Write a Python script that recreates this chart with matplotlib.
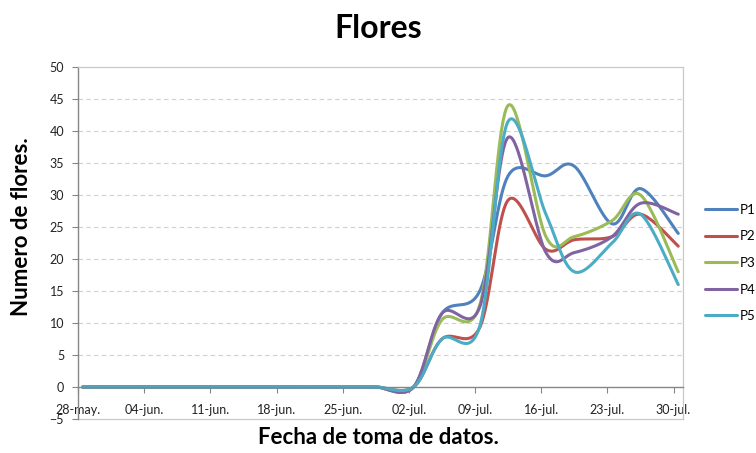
import numpy as np
import pandas as pd
import matplotlib
matplotlib.use('Agg')
import matplotlib.pyplot as plt

plt.rcParams['font.family'] = ['Lato', 'DejaVu Sans']

# Fechas de muestreo (martes y viernes desde finales de junio)
fechas = ['2013-05-28', '2013-06-04', '2013-06-11', '2013-06-18', '2013-06-25',
          '2013-06-28', '2013-07-02', '2013-07-05', '2013-07-09', '2013-07-12',
          '2013-07-16', '2013-07-19', '2013-07-23', '2013-07-26', '2013-07-30']

p1 = [0, 0, 0, 0, 0, 0, 0, 11.5, 15.0, 33.0, 33.0, 34.5, 25.5, 31.0, 24.0]
p2 = [0, 0, 0, 0, 0, 0, 0, 7.5, 9.3, 29.2, 21.5, 23.0, 23.5, 27.0, 22.0]
p3 = [0, 0, 0, 0, 0, 0, 0, 10.5, 12.8, 44.0, 23.5, 23.5, 26.0, 30.0, 18.0]
p4 = [0, 0, 0, 0, 0, 0, 0, 11.5, 12.5, 39.0, 21.0, 21.0, 23.5, 28.7, 27.0]
p5 = [0, 0, 0, 0, 0, 0, 0, 7.5, 9.5, 41.5, 27.0, 18.0, 22.5, 27.0, 16.0]

series = {'P1': p1, 'P2': p2, 'P3': p3, 'P4': p4, 'P5': p5}
colores = ['#4F81BD', '#C0504D', '#9BBB59', '#8064A2', '#4BACC6']

tick_fechas = ['2013-05-28', '2013-06-04', '2013-06-11', '2013-06-18', '2013-06-25',
               '2013-07-02', '2013-07-09', '2013-07-16', '2013-07-23', '2013-07-30']
tick_labels = ['28-may.', '04-jun.', '11-jun.', '18-jun.', '25-jun.',
               '02-jul.', '09-jul.', '16-jul.', '23-jul.', '30-jul.']

inicio = pd.Timestamp('2013-05-28')
dias = np.array([(pd.Timestamp(f) - inicio).days for f in fechas]) + 0.5
tick_dias = [(pd.Timestamp(f) - inicio).days for f in tick_fechas]

# escala aproximada en pixeles para el suavizado tipo Excel
SX, SY = 9.45, 6.4


def suavizar(x, y, n=40):
    pts = np.column_stack([np.asarray(x) * SX, np.asarray(y, dtype=float) * SY])
    P = np.vstack([pts[0], pts, pts[-1]])
    out = []
    t = np.linspace(0, 1, n)[:, None]
    for i in range(1, len(P) - 2):
        p0, a, b, p3 = P[i - 1], P[i], P[i + 1], P[i + 2]
        c1 = a + (b - p0) / 6
        c2 = b - (p3 - a) / 6
        seg = (1 - t) ** 3 * a + 3 * (1 - t) ** 2 * t * c1 + 3 * (1 - t) * t ** 2 * c2 + t ** 3 * b
        out.append(seg)
    out = np.vstack(out)
    return out[:, 0] / SX, out[:, 1] / SY


fig = plt.figure(figsize=(7.56, 4.53), dpi=100)
ax = fig.add_axes([78 / 756, 1 - 419 / 453, 605 / 756, 352 / 453])

for (nombre, vals), c in zip(series.items(), colores):
    xs, ys = suavizar(dias, vals)
    ax.plot(xs, ys, color=c, lw=2.2, label=nombre, solid_capstyle='round')

ax.set_xlim(0, 64)
ax.set_ylim(-5, 50)
ax.set_yticks(np.arange(-5, 51, 5))
ax.set_xticks(tick_dias)
ax.set_xticklabels(tick_labels)

for y in range(5, 50, 5):
    ax.axhline(y, color='#d0d0d0', lw=0.8, ls=(0, (4, 3)), zorder=0)

for s in ['top', 'right']:
    ax.spines[s].set_color('#c8c8c8')
    ax.spines[s].set_linewidth(0.9)
ax.spines['left'].set_color('#868686')
ax.spines['left'].set_linewidth(1.0)
ax.spines['bottom'].set_position(('data', 0))
ax.spines['bottom'].set_color('#868686')
ax.spines['bottom'].set_linewidth(1.0)
# borde inferior del area de trazado
ax.plot([0, 1], [0, 0], transform=ax.transAxes, color='#c8c8c8', lw=0.9, clip_on=False)

ax.tick_params(axis='x', direction='out', length=4, color='#868686', labelsize=9,
               pad=8, labelcolor='#222222')
ax.tick_params(axis='y', direction='out', length=4, color='#868686', labelsize=9,
               pad=6, labelcolor='#222222')

fig.text(0.5, 1 - 28 / 453, 'Flores', ha='center', va='center', fontsize=23, fontweight='bold')
fig.text(378 / 756, 1 - 437 / 453, 'Fecha de toma de datos.', ha='center', va='center',
         fontsize=16, fontweight='bold')
fig.text(22 / 756, 1 - 227 / 453, 'Numero de flores.', ha='center', va='center',
         rotation=90, fontsize=16, fontweight='bold')

fig.legend(loc='center left', bbox_to_anchor=(705 / 756, 1 - 263 / 453), frameon=False,
           fontsize=9.5, handlelength=2.4, handletextpad=0.2, labelspacing=1.1,
           borderpad=0, borderaxespad=0)

fig.savefig('out.png', dpi=100)
